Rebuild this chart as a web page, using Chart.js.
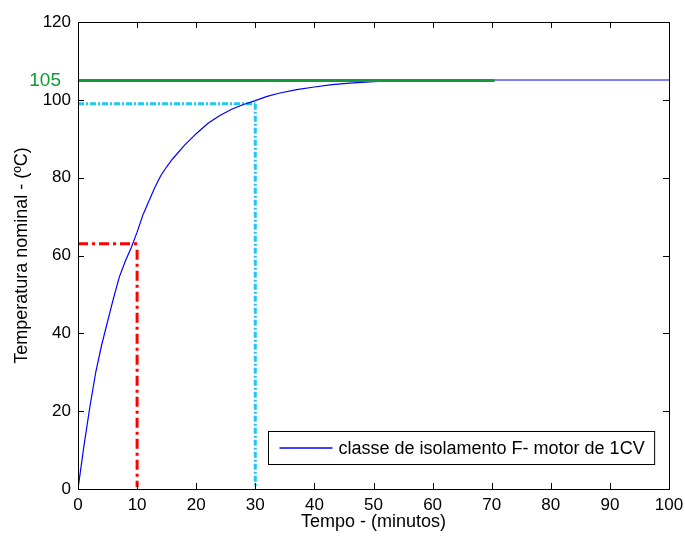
<!DOCTYPE html>
<html>
<head>
<meta charset="utf-8">
<script src="https://cdn.jsdelivr.net/npm/chart.js@4"></script>
<style>
  html, body { margin: 0; padding: 0; background: #fff; }
  #c { display: block; }
</style>
</head>
<body>
<canvas id="c" width="685" height="536"></canvas>
<script>
// Curva de aquecimento
const tempo = [0, 1, 2, 3, 4, 5, 6, 7, 8, 9, 10, 11, 12, 13, 14, 15, 16, 18, 20, 22, 24, 26, 28, 30, 32, 34, 37, 40, 43, 46, 50, 54, 60, 70, 100];
const temperatura = [0, 11, 21, 30, 37, 43, 49, 54.5, 58.5, 62, 66, 70.5, 74, 77.5, 80.5, 82.8, 84.8, 88.3, 91.3, 94, 96, 97.6, 98.8, 99.8, 100.9, 101.7, 102.6, 103.3, 103.9, 104.3, 104.7, 104.9, 105, 105.1, 105.1];

// Linhas de referência
const limiteX = [0, 70.5];
const limiteY = [105, 105];
const tau63X = [[0, 10], [10, 10]];
const tau63Y = [[63, 63], [61.5, 0.5]];
const t30X = [[0, 30], [30, 30]];
const t30Y = [[99, 99], [99, 0.5]];

const xTicks = [0, 10, 20, 30, 40, 50, 60, 70, 80, 90, 100];
const yTicks = [0, 20, 40, 60, 80, 100, 120];
const limiteTexto = '105';
const legendaTexto = 'classe de isolamento F- motor de 1CV';

const pts = (xs, ys) => xs.map((x, i) => ({ x: x, y: ys[i] }));
const FONT = 'Liberation Sans, Arial, Helvetica, sans-serif';
const VERDE = '#139a3a';

const datasets = [
    {
        label: legendaTexto,
        data: pts(tempo, temperatura),
        borderColor: '#0000ff',
        borderWidth: 1.2,
        order: 2
    },
    {
        label: 'limite',
        data: pts(limiteX, limiteY),
        borderColor: VERDE,
        borderWidth: 3,
        order: 1
    }
];
tau63X.forEach((xs, i) => datasets.push({
    label: 'tau',
    data: pts(xs, tau63Y[i]),
    borderColor: '#ff0000',
    borderWidth: 3,
    borderDash: [10, 4, 3, 4],
    order: 3
}));
t30X.forEach((xs, i) => datasets.push({
    label: 't30',
    data: pts(xs, t30Y[i]),
    borderColor: '#1ec8f0',
    borderWidth: 3,
    borderDash: [6, 2, 2, 2],
    order: 3
}));

// Moldura e marcas internas (estilo MATLAB)
const molduraPlugin = {
    id: 'moldura',
    afterDatasetsDraw(chart) {
        const { ctx, chartArea: a, scales } = chart;
        ctx.save();
        ctx.strokeStyle = '#000';
        ctx.lineWidth = 1;
        const tl = 6;
        ctx.beginPath();
        xTicks.forEach(v => {
            const px = Math.round(scales.x.getPixelForValue(v)) + 0.5;
            ctx.moveTo(px, a.bottom); ctx.lineTo(px, a.bottom - tl);
            ctx.moveTo(px, a.top); ctx.lineTo(px, a.top + tl);
        });
        yTicks.forEach(v => {
            const py = Math.round(scales.y.getPixelForValue(v)) + 0.5;
            ctx.moveTo(a.left, py); ctx.lineTo(a.left + tl, py);
            ctx.moveTo(a.right, py); ctx.lineTo(a.right - tl, py);
        });
        ctx.stroke();
        ctx.strokeRect(Math.round(a.left) + 0.5, Math.round(a.top) + 0.5,
            Math.round(a.right - a.left), Math.round(a.bottom - a.top));

        // rótulo do limite 105
        ctx.fillStyle = VERDE;
        ctx.font = '19px ' + FONT;
        ctx.textAlign = 'right';
        ctx.textBaseline = 'middle';
        ctx.fillText(limiteTexto, a.left - 17, scales.y.getPixelForValue(limiteY[0]));

        // legenda
        ctx.textAlign = 'left';
        ctx.font = '18px ' + FONT;
        const w = ctx.measureText(legendaTexto).width + 80;
        const h = 33;
        const bx = Math.round(a.right - 15 - w) + 0.5;
        const by = Math.round(a.bottom - 25 - h) + 0.5;
        ctx.fillStyle = '#fff';
        ctx.fillRect(bx, by, w, h);
        ctx.strokeStyle = '#000';
        ctx.strokeRect(bx, by, w, h);
        ctx.strokeStyle = '#0000ff';
        ctx.lineWidth = 1.5;
        ctx.beginPath();
        ctx.moveTo(bx + 11, by + h / 2);
        ctx.lineTo(bx + 64, by + h / 2);
        ctx.stroke();
        ctx.fillStyle = '#000';
        ctx.fillText(legendaTexto, bx + 70, by + h / 2 + 1);
        ctx.restore();
    }
};

const config = {
    type: 'line',
    data: { datasets: datasets },
    options: {
        responsive: false,
        animation: false,
        layout: { padding: { left: 0, right: 16, top: 22, bottom: 3 } },
        elements: { point: { radius: 0 }, line: { tension: 0 } },
        plugins: { legend: { display: false }, tooltip: { enabled: false } },
        scales: {
            x: {
                type: 'linear',
                min: 0,
                max: 100,
                grid: { display: false, drawTicks: false },
                border: { display: false },
                afterBuildTicks: s => { s.ticks = xTicks.map(v => ({ value: v })); },
                afterFit: s => { s.height = 44; s.paddingLeft = 0; s.paddingRight = 0; },
                ticks: { color: '#000', padding: 6, font: { family: FONT, size: 17 }, maxRotation: 0, autoSkip: false },
                title: { display: true, text: 'Tempo - (minutos)', color: '#000', padding: 0, font: { family: FONT, size: 18 } }
            },
            y: {
                min: 0,
                max: 120,
                grid: { display: false, drawTicks: false },
                border: { display: false },
                afterBuildTicks: s => { s.ticks = yTicks.map(v => ({ value: v })); },
                afterFit: s => { s.width = 78; s.paddingTop = 0; s.paddingBottom = 0; },
                ticks: { color: '#000', padding: 7, autoSkip: false, font: { family: FONT, size: 17 } },
                title: { display: true, text: 'Temperatura nominal - (ºC)', color: '#000', padding: { top: 11 }, font: { family: FONT, size: 18 } }
            }
        }
    },
    plugins: [molduraPlugin]
};

new Chart(document.getElementById('c').getContext('2d'), config);
</script>
</body>
</html>
